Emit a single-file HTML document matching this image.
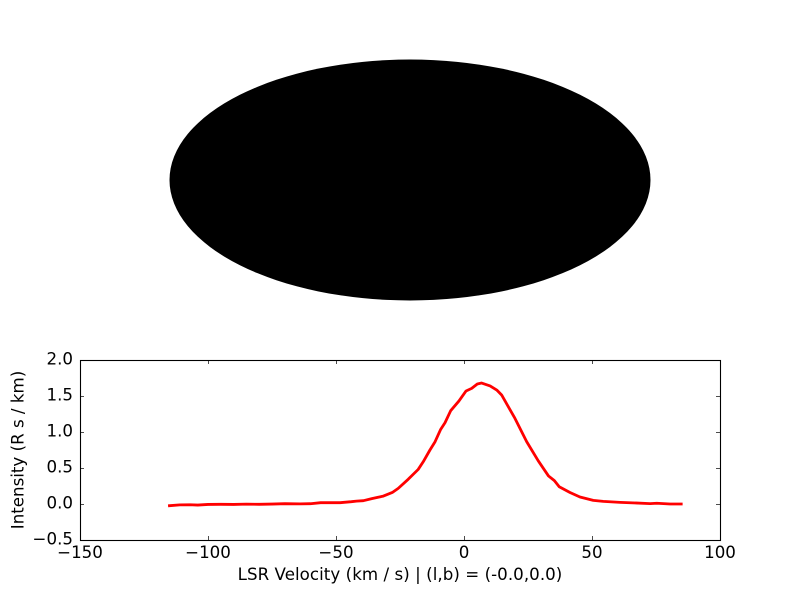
<!DOCTYPE html>
<html lang="en">
<head>
<meta charset="utf-8">
<title>LSR Velocity Spectrum</title>
<style>
html,body{margin:0;padding:0;background:#fff;}
svg{display:block;}
text{font-family:"DejaVu Sans",sans-serif;font-size:16.67px;fill:#000;}
</style>
</head>
<body>
<svg id="figure" width="800" height="600" viewBox="0 0 800 600" xmlns="http://www.w3.org/2000/svg">
  <rect x="0" y="0" width="800" height="600" fill="#fff"/>
  <ellipse cx="410" cy="180" rx="240.5" ry="120.5" fill="#000"/>
  <g id="spectrum-axes"></g>
</svg>
<script>
const velocities = [-115.6,-111,-107,-104,-100,-95,-90,-85,-80,-75,-70,-64,-60,-56,-52,-48.4,-44,-42,-39.3,-36,-34,-31.5,-28,-25.7,-21.8,-17.9,-15.9,-13.3,-11.3,-9.1,-7.4,-5.2,-2,0.8,3,5.2,6.9,10.2,12.8,14.7,19.9,24.5,29,33,35.3,37.2,41.4,45.3,50.5,54.4,61,66,72.7,75.3,80.5,85.4];
const intensities = [-0.025,-0.012,-0.01,-0.015,-0.006,-0.004,-0.006,-0.002,-0.004,-0.001,0.004,0.002,0.004,0.018,0.018,0.018,0.032,0.04,0.046,0.075,0.09,0.11,0.16,0.217,0.343,0.48,0.588,0.75,0.865,1.037,1.13,1.296,1.43,1.57,1.606,1.667,1.68,1.64,1.583,1.514,1.19,0.865,0.6,0.39,0.325,0.24,0.16,0.097,0.05,0.037,0.023,0.016,0.005,0.01,0,0];
const xTicks = [-150,-100,-50,0,50,100];
const yTicks = [-0.5,0,0.5,1,1.5,2];
const xDomain = [-150,100];
const yDomain = [-0.5,2];
const xLabelText = "LSR Velocity (km / s) | (l,b) = (-0.0,0.0)";
const yLabelText = "Intensity (R s / km)";

const NS = "http://www.w3.org/2000/svg";
const axes = document.getElementById("spectrum-axes");
const L = 80, R = 720, T = 360, B = 540;
function xScale(v){ return L + (v - xDomain[0]) / (xDomain[1] - xDomain[0]) * (R - L); }
function yScale(v){ return B - (v - yDomain[0]) / (yDomain[1] - yDomain[0]) * (B - T); }
function make(tag, attrs){
  const el = document.createElementNS(NS, tag);
  for (const k in attrs) el.setAttribute(k, attrs[k]);
  axes.appendChild(el);
  return el;
}
function fmtX(v){ return (v < 0 ? "\u2212" : "") + Math.abs(v); }
function fmtY(v){ return (v < 0 ? "\u2212" : "") + Math.abs(v).toFixed(1); }

const plotBg = make("rect", {x:L, y:T, width:R-L, height:B-T, fill:"#fff"});



const pts = velocities.map((v,i) => xScale(v).toFixed(2) + "," + yScale(intensities[i]).toFixed(2)).join(" ");
const line = make("polyline", {points:pts, fill:"none", stroke:"#f00", "stroke-width":2.8, "stroke-linejoin":"round"});



xTicks.forEach(v => {
  const x = Math.round(xScale(v)) + 0.5;
  const t1 = make("line", {x1:x, x2:x, y1:B, y2:B-4, stroke:"#000", "stroke-width":0.7});
  
  
  const t2 = make("line", {x1:x, x2:x, y1:T, y2:T+4, stroke:"#000", "stroke-width":0.7});
  
  
  const lab = make("text", {x:xScale(v), y:558, "text-anchor":"middle"});
  lab.textContent = fmtX(v);
  
  
});
yTicks.forEach(v => {
  const y = Math.round(yScale(v)) + 0.5;
  const t1 = make("line", {x1:L, x2:L+4, y1:y, y2:y, stroke:"#000", "stroke-width":0.7});
  
  
  const t2 = make("line", {x1:R, x2:R-4, y1:y, y2:y, stroke:"#000", "stroke-width":0.7});
  
  
  const lab = make("text", {x:73, y:yScale(v)+4.3, "text-anchor":"end"});
  lab.textContent = fmtY(v);
  
  
});

const frame = make("rect", {x:L+0.5, y:T+0.5, width:R-L, height:B-T, fill:"none", stroke:"#000", "stroke-width":1.1});



const xTitle = make("text", {x:400, y:580, "text-anchor":"middle", "letter-spacing":"0.05"});
xTitle.textContent = xLabelText;



const yTitle = make("text", {x:0, y:0, "text-anchor":"middle", transform:"translate(23.5,450) rotate(-90)"});
yTitle.textContent = yLabelText;


</script>
</body>
</html>
